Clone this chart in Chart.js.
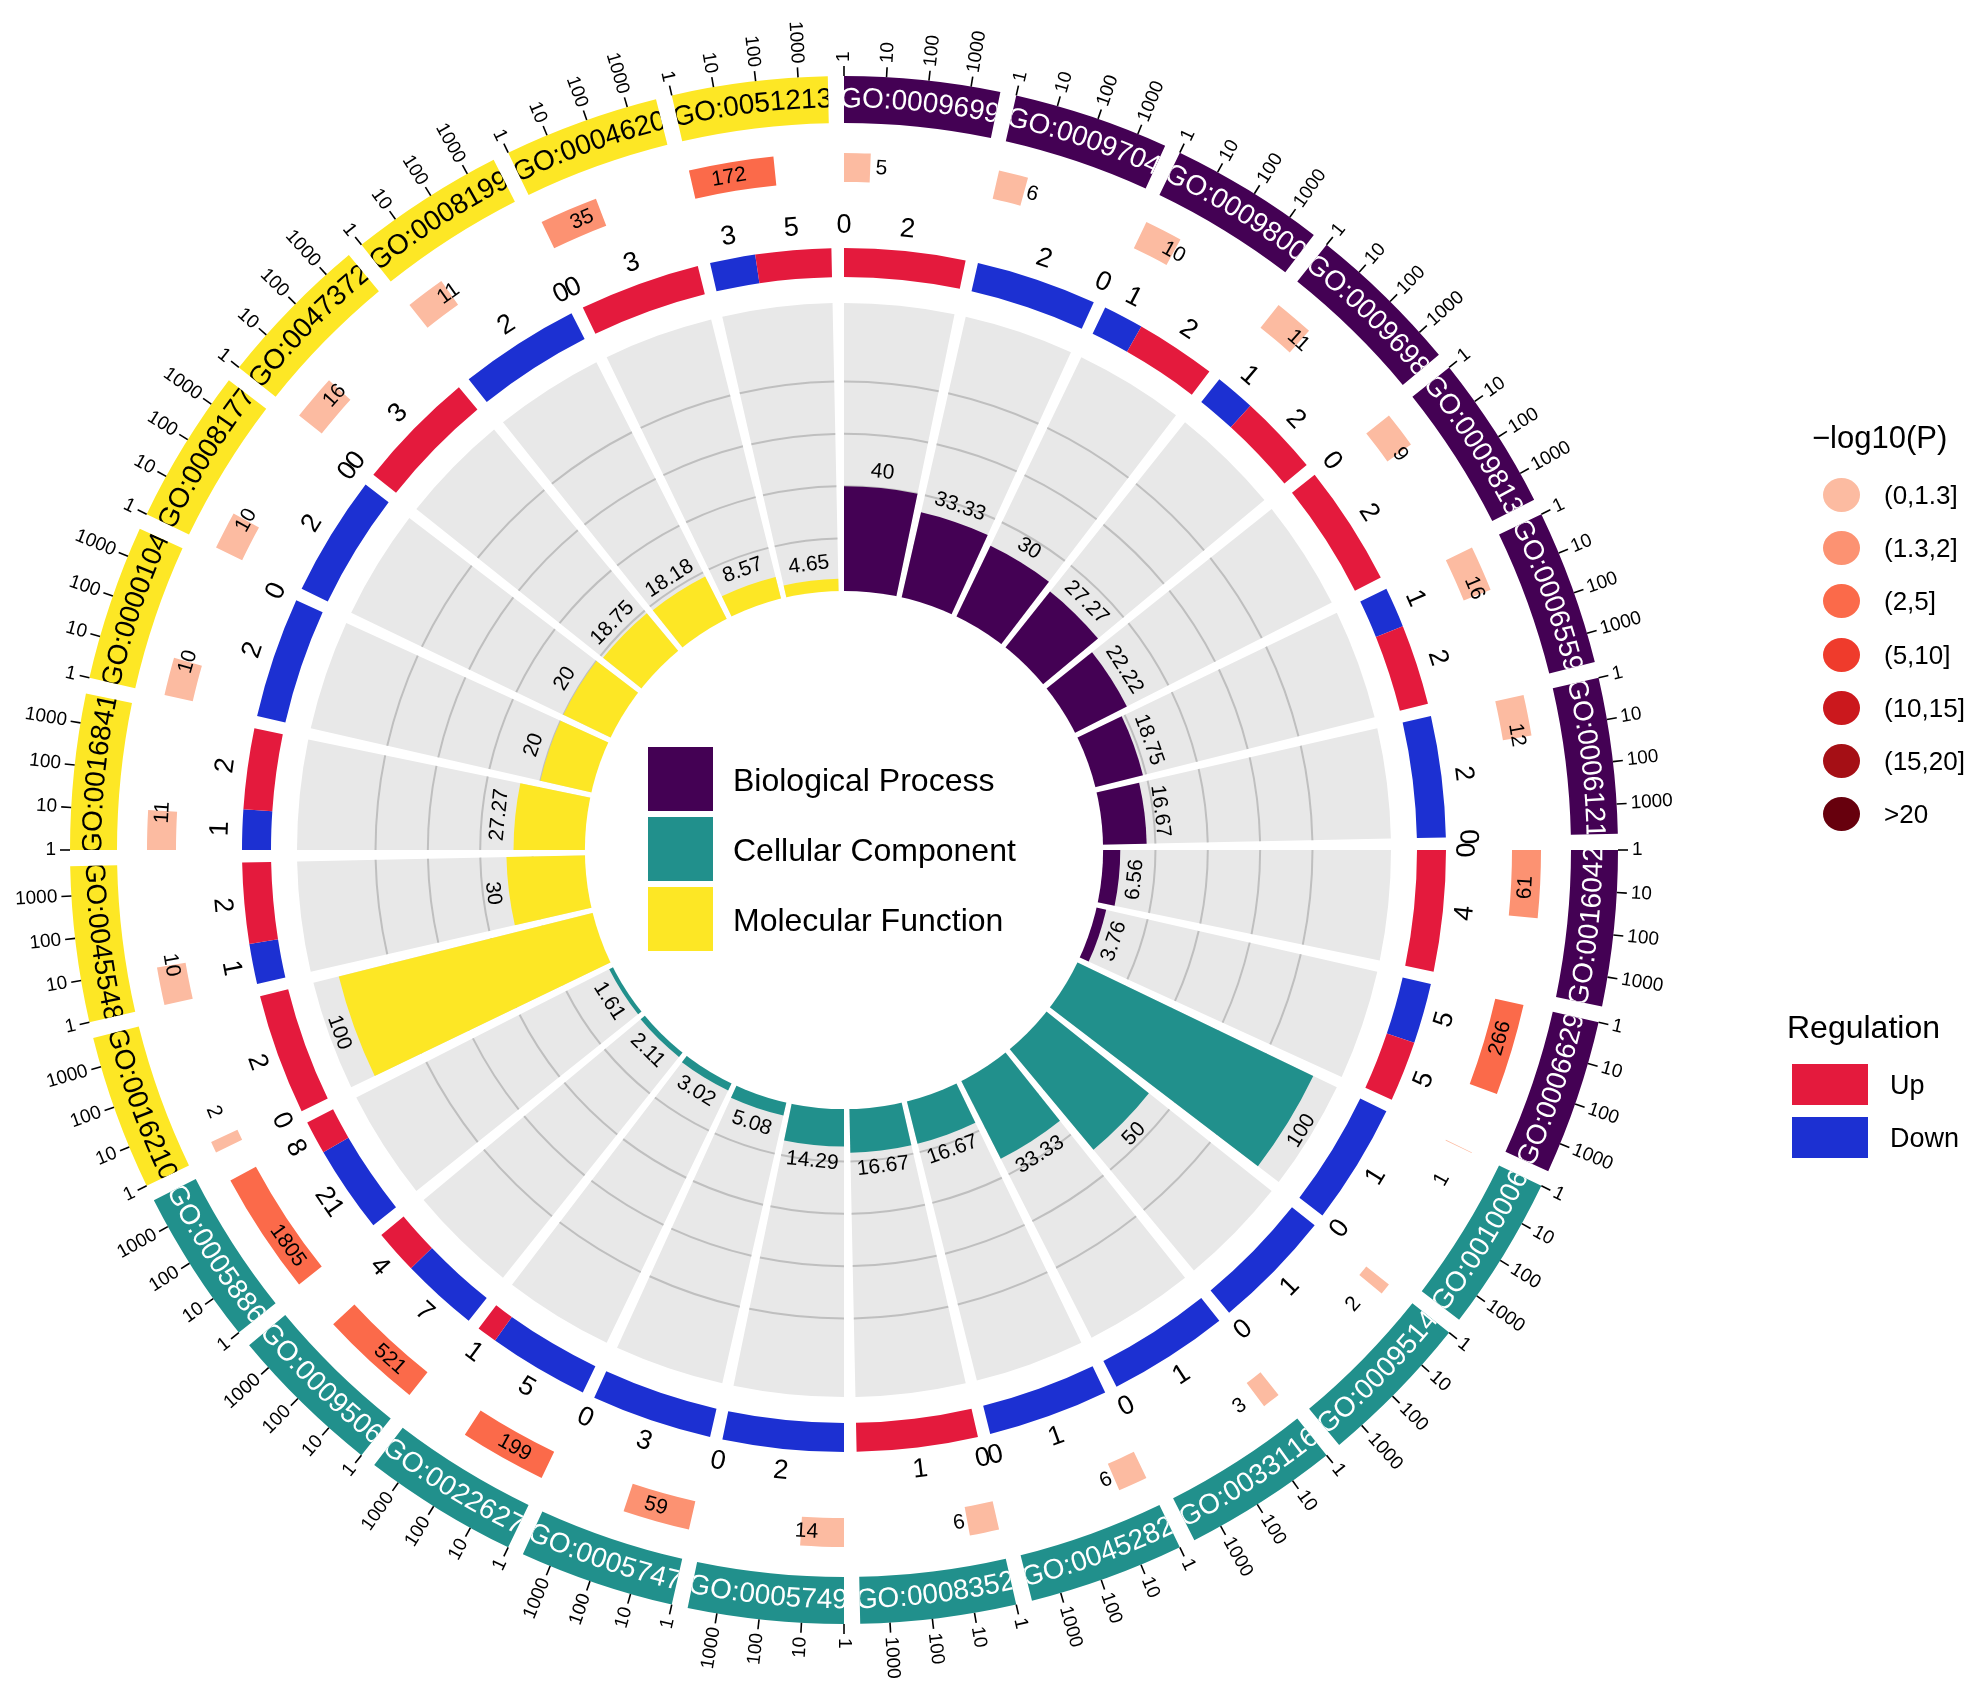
<!DOCTYPE html>
<html>
<head>
<meta charset="utf-8">
<title>GO circle plot</title>
<script src="https://cdn.jsdelivr.net/npm/chart.js@4.4.1/dist/chart.umd.min.js"></script>
<style>
  body { margin: 0; background: #fff; font-family: "Liberation Sans", Arial, sans-serif; }
  #wrap { position: relative; width: 1969px; height: 1684px; overflow: hidden; }
  #wrap canvas { position: absolute; left: 0; top: 0; }
  .lg { position: absolute; line-height: 1; white-space: nowrap; color: #000; }
  .sw { position: absolute; }
</style>
</head>
<body>
<div id="wrap">
  <canvas id="barChart" width="1969" height="1684"></canvas>
  <canvas id="ringChart" width="1969" height="1684"></canvas>
  <div id="legends"></div>
</div>
<script>
// ---- data ----
const goTerms = [
  'GO:0009699', 'GO:0009704', 'GO:0009800', 'GO:0009698', 'GO:0009813', 'GO:0006559',
  'GO:0006121', 'GO:0016042', 'GO:0006629',
  'GO:0010006', 'GO:0009514', 'GO:0033116', 'GO:0045282', 'GO:0008352', 'GO:0005749',
  'GO:0005747', 'GO:0022627', 'GO:0009506', 'GO:0005886',
  'GO:0016210', 'GO:0045548', 'GO:0016841', 'GO:0000104', 'GO:0008177', 'GO:0047372',
  'GO:0008199', 'GO:0004620', 'GO:0051213'
];
const termCategory = [
  'BP', 'BP', 'BP', 'BP', 'BP', 'BP', 'BP', 'BP', 'BP',
  'CC', 'CC', 'CC', 'CC', 'CC', 'CC', 'CC', 'CC', 'CC', 'CC',
  'MF', 'MF', 'MF', 'MF', 'MF', 'MF', 'MF', 'MF', 'MF'
];
const geneCounts = [5, 6, 10, 11, 9, 16, 12, 61, 266,
  1, 2, 3, 6, 6, 14, 59, 199, 521, 1805,
  2, 10, 11, 10, 10, 16, 11, 35, 172];
const downCounts = [0, 2, 1, 1, 0, 1, 2, 0, 5,
  1, 1, 1, 1, 0, 2, 3, 5, 7, 21,
  0, 1, 1, 2, 2, 0, 2, 0, 3];
const upCounts = [2, 0, 2, 2, 2, 2, 0, 4, 5,
  0, 0, 0, 0, 1, 0, 0, 1, 4, 8,
  2, 2, 2, 0, 0, 3, 0, 3, 5];
const percents = [40, 33.33, 30, 27.27, 22.22, 18.75, 16.67, 6.56, 3.76,
  100, 50, 33.33, 16.67, 16.67, 14.29, 5.08, 3.02, 2.11, 1.61,
  100, 30, 27.27, 20, 20, 18.75, 18.18, 8.57, 4.65];
// index into pBinLabels
const pBins = [0, 0, 0, 0, 0, 0, 0, 1, 2,
  0, 0, 0, 0, 0, 0, 1, 2, 2, 2,
  0, 0, 0, 0, 0, 0, 0, 1, 2];
const countTicks = ['1', '10', '100', '1000'];
const gridValues = [20, 40, 60, 80];
const pBinLabels = ['(0,1.3]', '(1.3,2]', '(2,5]', '(5,10]', '(10,15]', '(15,20]', '>20'];
const categoryKeys = ['BP', 'CC', 'MF'];
const categoryNames = ['Biological Process', 'Cellular Component', 'Molecular Function'];
const regulationNames = ['Up', 'Down'];

// ---- styles ----
const FONT = '"Liberation Sans", Arial, sans-serif';
const catColors = { BP: '#440154', CC: '#21908C', MF: '#FDE725' };
const pBinColors = ['#FCBBA1', '#FC9272', '#FB6A4A', '#EF3B2C', '#CB181D', '#A50F15', '#67000D'];
const UP_COLOR = '#E41A3D';
const DOWN_COLOR = '#1C30D2';
const BG_GRAY = '#E8E8E8';
const GRID_GRAY = '#BFBFBF';
const NONE = 'rgba(0,0,0,0)';

const UNIT = 360 / goTerms.length;  // degrees per term
const GAP = 1.2;                    // degrees of white gap
const SECTOR = UNIT - GAP;
const LOG_MAX = 3.7;                // log10 extent of each sector's count axis
const GRAY_MAX = 110;

// ---- helpers ----
function isFlipped(a) { return Math.sin(a) > 1e-6; }

function tangentText(ctx, text, cx, cy, r, a, flip) {
  ctx.save();
  ctx.translate(cx + r * Math.cos(a), cy + r * Math.sin(a));
  ctx.rotate(a + Math.PI / 2 + (flip ? Math.PI : 0));
  ctx.textAlign = 'center';
  ctx.textBaseline = 'middle';
  ctx.fillText(text, 0, 0);
  ctx.restore();
}

function bentText(ctx, text, cx, cy, r, mid, flip) {
  const w = ctx.measureText(text).width;
  let a = flip ? mid + w / (2 * r) : mid - w / (2 * r);
  ctx.textAlign = 'center';
  ctx.textBaseline = 'middle';
  for (const ch of text) {
    const cw = ctx.measureText(ch).width;
    const ac = flip ? a - cw / (2 * r) : a + cw / (2 * r);
    ctx.save();
    ctx.translate(cx + r * Math.cos(ac), cy + r * Math.sin(ac));
    ctx.rotate(ac + Math.PI / 2 + (flip ? Math.PI : 0));
    ctx.fillText(ch, 0, 0);
    ctx.restore();
    a = flip ? a - cw / r : a + cw / r;
  }
}

// ---- inner bars (polar area) ----
const barPlugin = {
  id: 'barPlugin',
  beforeDatasetDraw(chart, args) {
    if (args.index !== 0) return;
    const ctx = chart.ctx;
    const scale = chart.scales.r;
    const gray = chart.getDatasetMeta(1).data;
    ctx.save();
    ctx.strokeStyle = GRID_GRAY;
    ctx.lineWidth = 2;
    gridValues.forEach(v => {
      const r = scale.getDistanceFromCenterForValue(v);
      goTerms.forEach((t, i) => {
        const arc = gray[2 * i];
        ctx.beginPath();
        ctx.arc(arc.x, arc.y, r, arc.startAngle, arc.endAngle);
        ctx.stroke();
      });
    });
    ctx.restore();
  },
  afterDatasetsDraw(chart) {
    const ctx = chart.ctx;
    const scale = chart.scales.r;
    const r0 = scale.getDistanceFromCenterForValue(0);
    ctx.save();
    ctx.fillStyle = '#fff';
    ctx.beginPath();
    ctx.arc(scale.xCenter, scale.yCenter, r0, 0, Math.PI * 2);
    ctx.fill();
    ctx.fillStyle = '#000';
    ctx.font = '21px ' + FONT;
    const bars = chart.getDatasetMeta(0).data;
    goTerms.forEach((t, i) => {
      const arc = bars[2 * i];
      const mid = (arc.startAngle + arc.endAngle) / 2;
      tangentText(ctx, String(percents[i]), arc.x, arc.y, arc.outerRadius + 16, mid, isFlipped(mid));
    });
    ctx.restore();
  }
};

new Chart(document.getElementById('barChart'), {
  type: 'polarArea',
  data: {
    labels: goTerms.flatMap(t => [t, '']),
    datasets: [
      {
        label: 'Percent',
        data: percents.flatMap(v => [v, 0]),
        backgroundColor: termCategory.flatMap(c => [catColors[c], NONE]),
        angle: goTerms.flatMap(() => [SECTOR, GAP]),
        borderWidth: 0
      },
      {
        label: 'Background',
        data: goTerms.flatMap(() => [GRAY_MAX, 0]),
        backgroundColor: goTerms.flatMap(() => [BG_GRAY, NONE]),
        angle: goTerms.flatMap(() => [SECTOR, GAP]),
        borderWidth: 0
      }
    ]
  },
  options: {
    responsive: false,
    devicePixelRatio: 1,
    animation: false,
    events: [],
    layout: { padding: { left: 297, top: 303, right: 578, bottom: 287 } },
    scales: {
      r: {
        min: -99,
        max: GRAY_MAX,
        startAngle: 0,
        grid: { display: false },
        angleLines: { display: false },
        pointLabels: { display: false },
        ticks: { display: false }
      }
    },
    plugins: { legend: { display: false }, tooltip: { enabled: false } }
  },
  plugins: [barPlugin]
});

// ---- outer rings (doughnut) ----
const ringPlugin = {
  id: 'ringPlugin',
  afterDraw(chart) {
    const ctx = chart.ctx;
    const band = chart.getDatasetMeta(0).data;
    const boxes = chart.getDatasetMeta(2).data;
    const reg = chart.getDatasetMeta(4).data;
    goTerms.forEach((term, i) => {
      const arc = band[2 * i];
      const { x, y, startAngle: a0, endAngle: a1, innerRadius: ri, outerRadius: ro } = arc;
      const mid = (a0 + a1) / 2;
      const flip = isFlipped(mid);

      // term label bent along the band, clipped to it
      ctx.save();
      ctx.beginPath();
      ctx.arc(x, y, ro, a0, a1);
      ctx.arc(x, y, ri, a1, a0, true);
      ctx.closePath();
      ctx.clip();
      ctx.font = '28px ' + FONT;
      ctx.fillStyle = termCategory[i] === 'MF' ? '#000' : '#fff';
      bentText(ctx, term, x, y, (ri + ro) / 2, mid, flip);
      ctx.restore();

      // log count axis
      ctx.save();
      ctx.strokeStyle = '#000';
      ctx.fillStyle = '#000';
      ctx.lineWidth = 1.6;
      ctx.font = '19px ' + FONT;
      ctx.textBaseline = 'middle';
      countTicks.forEach(lab => {
        const a = a0 + (a1 - a0) * Math.log10(Number(lab)) / LOG_MAX;
        ctx.beginPath();
        ctx.moveTo(x + ro * Math.cos(a), y + ro * Math.sin(a));
        ctx.lineTo(x + (ro + 10) * Math.cos(a), y + (ro + 10) * Math.sin(a));
        ctx.stroke();
        const rl = ro + 14;
        ctx.save();
        ctx.translate(x + rl * Math.cos(a), y + rl * Math.sin(a));
        if (Math.cos(a) > -1e-6) {
          ctx.rotate(a);
          ctx.textAlign = 'left';
        } else {
          ctx.rotate(a + Math.PI);
          ctx.textAlign = 'right';
        }
        ctx.fillText(lab, 0, 0);
        ctx.restore();
      });

      // gene count label
      const box = boxes[2 * i];
      ctx.font = '21px ' + FONT;
      const ab = a0 + (a1 - a0) / LOG_MAX;
      tangentText(ctx, String(geneCounts[i]), x, y, (box.innerRadius + box.outerRadius) / 2, ab, flip);

      // down / up counts
      const dn = reg[3 * i];
      const up = reg[3 * i + 1];
      ctx.font = '27px ' + FONT;
      const rr = dn.outerRadius + 22;
      tangentText(ctx, String(downCounts[i]), x, y, rr, (dn.startAngle + dn.endAngle) / 2, flip);
      tangentText(ctx, String(upCounts[i]), x, y, rr, (up.startAngle + up.endAngle) / 2, flip);
      ctx.restore();
    });
  }
};

const spacer = w => ({ data: [1], backgroundColor: [NONE], weight: w, borderWidth: 0 });

new Chart(document.getElementById('ringChart'), {
  type: 'doughnut',
  data: {
    datasets: [
      {
        label: 'Term',
        data: goTerms.flatMap(() => [SECTOR, GAP]),
        backgroundColor: termCategory.flatMap(c => [catColors[c], NONE]),
        weight: 47,
        borderWidth: 0
      },
      spacer(30),
      {
        label: 'Count',
        data: geneCounts.flatMap(c => {
          const b = SECTOR * Math.max(Math.log10(c), 0.02) / LOG_MAX;
          return [b, UNIT - b];
        }),
        backgroundColor: pBins.flatMap(p => [pBinColors[p], NONE]),
        weight: 29,
        borderWidth: 0
      },
      spacer(66),
      {
        label: 'Regulation',
        data: goTerms.flatMap((t, i) => {
          const tot = downCounts[i] + upCounts[i];
          return [SECTOR * downCounts[i] / tot, SECTOR * upCounts[i] / tot, GAP];
        }),
        backgroundColor: goTerms.flatMap(() => [DOWN_COLOR, UP_COLOR, NONE]),
        weight: 29,
        borderWidth: 0
      }
    ]
  },
  options: {
    responsive: false,
    devicePixelRatio: 1,
    animation: false,
    events: [],
    cutout: 573,
    hoverOffset: 0,
    layout: { padding: { left: 70, top: 76, right: 351, bottom: 60 } },
    plugins: { legend: { display: false }, tooltip: { enabled: false } }
  },
  plugins: [ringPlugin]
});

// ---- legends ----
const lg = document.getElementById('legends');
function addText(text, left, cy, size) {
  const d = document.createElement('div');
  d.className = 'lg';
  d.textContent = text;
  d.style.left = left + 'px';
  d.style.top = (cy - size / 2) + 'px';
  d.style.fontSize = size + 'px';
  lg.appendChild(d);
}
function addSwatch(left, top, w, h, color, round) {
  const d = document.createElement('div');
  d.className = 'sw';
  Object.assign(d.style, {
    left: left + 'px', top: top + 'px', width: w + 'px', height: h + 'px',
    background: color, borderRadius: round ? '50%' : '0'
  });
  lg.appendChild(d);
}

categoryKeys.forEach((k, i) => {
  const top = 747 + i * 70;
  addSwatch(648, top, 65, 64, catColors[k], false);
  addText(categoryNames[i], 733, top + 33, 32);
});

addText('\u2212log10(P)', 1812, 437, 31);
pBinLabels.forEach((lab, i) => {
  const cy = 495 + i * 53.2;
  addSwatch(1823, cy - 17, 37, 34, pBinColors[i], true);
  addText(lab, 1884, cy, 26);
});

addText('Regulation', 1787, 1027, 32);
[UP_COLOR, DOWN_COLOR].forEach((c, i) => {
  const top = 1064 + i * 53;
  addSwatch(1792, top, 76, 41, c, false);
  addText(regulationNames[i], 1890, top + 21, 27);
});
</script>
</body>
</html>
